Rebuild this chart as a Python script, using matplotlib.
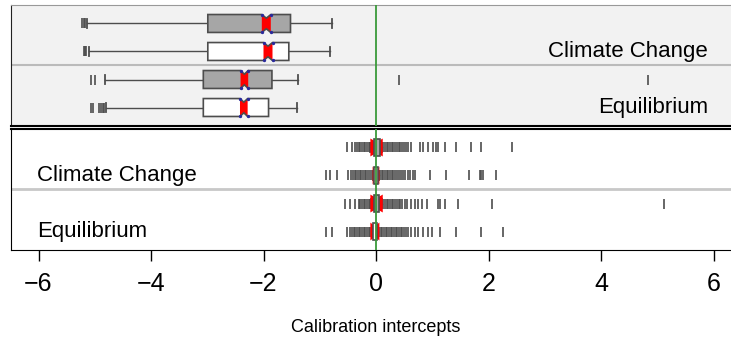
import matplotlib
matplotlib.use("Agg")
import matplotlib.pyplot as plt
from matplotlib.patches import Polygon

plt.rcParams['font.family'] = ['Liberation Sans', 'DejaVu Sans']

# ---------------- data ----------------
rows = [1, 2, 3, 4]
fills = ['#a6a6a6', 'white', '#a6a6a6', 'white']
panel_labels = ['Climate Change', 'Equilibrium']
label_rows = [2, 4]
xticks = [-6, -4, -2, 0, 2, 4, 6]
xlabel = 'Calibration intercepts'

# top panel (box statistics)
top_q1 = [-2.99, -2.99, -3.07, -3.07]
top_med = [-1.95, -1.92, -2.34, -2.35]
top_q3 = [-1.52, -1.55, -1.85, -1.91]
top_wlo = [-5.13, -5.11, -4.81, -4.80]
top_whi = [-0.79, -0.82, -1.39, -1.41]
top_notch = [0.08, 0.08, 0.068, 0.068]
top_out = [
    [-5.23, -5.20, -5.17],
    [-5.20, -5.18, -5.16],
    [-5.07, -4.99, 0.41, 4.83],
    [-5.07, -5.03, -4.92, -4.89, -4.86, -4.84],
]

# bottom panel
bot_q1 = [-0.03, -0.03, -0.03, -0.05]
bot_med = [0.01, 0.00, 0.01, -0.02]
bot_q3 = [0.07, 0.04, 0.06, 0.01]
bot_wlo = [-0.10, -0.06, -0.09, -0.07]
bot_whi = [0.11, 0.06, 0.11, 0.04]
bot_notch = [0.11, 0.06, 0.11, 0.08]
bot_out = [
    [-0.52, -0.43, -0.37, -0.34, -0.31, -0.28, -0.25, -0.22, -0.19, -0.16, -0.13, -0.11,
     0.13, 0.16, 0.19, 0.22, 0.25, 0.28, 0.31, 0.34, 0.37, 0.40, 0.43, 0.47, 0.50, 0.53,
     0.57, 0.63, 0.78, 0.84, 0.93, 1.02, 1.07, 1.11, 1.23, 1.42, 1.68, 1.86, 2.42],
    [-0.89, -0.82, -0.70, -0.49, -0.45, -0.41, -0.38, -0.35, -0.32, -0.29, -0.26, -0.23,
     -0.20, -0.17, -0.14, -0.11, -0.08, 0.07, 0.10, 0.13, 0.16, 0.19, 0.22, 0.25, 0.28,
     0.31, 0.34, 0.37, 0.40, 0.44, 0.48, 0.52, 0.56, 0.60, 0.66, 0.69, 0.96, 1.24, 1.65,
     1.84, 1.87, 1.91, 2.13],
    [-0.55, -0.46, -0.37, -0.31, -0.28, -0.25, -0.22, -0.19, -0.16, -0.13, -0.11,
     0.13, 0.16, 0.19, 0.22, 0.25, 0.28, 0.31, 0.34, 0.37, 0.40, 0.43, 0.47, 0.51, 0.55,
     0.63, 0.69, 0.75, 0.81, 0.90, 1.11, 1.14, 1.23, 1.45, 2.07, 5.12],
    [-0.89, -0.79, -0.52, -0.46, -0.43, -0.40, -0.37, -0.34, -0.31, -0.28, -0.25, -0.22,
     -0.19, -0.16, -0.13, -0.10, -0.08, 0.05, 0.08, 0.11, 0.14, 0.17, 0.20, 0.23, 0.26,
     0.29, 0.32, 0.35, 0.38, 0.41, 0.44, 0.47, 0.50, 0.53, 0.57, 0.63, 0.69, 0.75, 0.84,
     0.93, 0.99, 1.14, 1.42, 1.86, 2.25],
]

# ---------------- style ----------------
W, H = 731, 344
EDGE = '#4d4d4d'
GREEN = '#3a9a3a'
h = 0.32      # box half height
wst = 0.19    # waist half height
cap = 0.16

fig = plt.figure(figsize=(W / 100, H / 100), dpi=100)
ax_top = fig.add_axes([11 / W, 1 - 126 / H, (W - 11) / W, 121 / H])
ax_bot = fig.add_axes([11 / W, 1 - 250 / H, (W - 11) / W, 121 / H])

xlim = ((11 - 376) / 56.25, (731 - 376) / 56.25)


def draw_box(ax, y, q1, med, q3, wlo, whi, n, fill, out, notched_outline):
    # whiskers
    ax.plot([wlo, q1], [y, y], color=EDGE, lw=1.0, zorder=2)
    ax.plot([q3, whi], [y, y], color=EDGE, lw=1.0, zorder=2)
    ax.plot([wlo, wlo], [y - cap, y + cap], color=EDGE, lw=1.3, zorder=2)
    ax.plot([whi, whi], [y - cap, y + cap], color=EDGE, lw=1.3, zorder=2)
    notch = [(med - n, y - h), (med, y - wst), (med + n, y - h),
             (med + n, y + h), (med, y + wst), (med - n, y + h)]
    if notched_outline:
        pts = [(q1, y - h), (med - n, y - h), (med, y - wst), (med + n, y - h),
               (q3, y - h), (q3, y + h), (med + n, y + h), (med, y + wst),
               (med - n, y + h), (q1, y + h)]
        ax.add_patch(Polygon(pts, closed=True, facecolor=fill, edgecolor='none', zorder=3))
        ax.add_patch(Polygon(notch, closed=True, facecolor='red', edgecolor='none', zorder=4))
        ax.add_patch(Polygon(pts, closed=True, facecolor='none', edgecolor=EDGE, lw=1.2, zorder=5))
        cx = [med - n, med + n, med - n, med + n]
        cy = [y - h, y - h, y + h, y + h]
        ax.plot(cx, cy, ls='none', marker='o', ms=1.4, color='#2a2a9c', zorder=6)
    else:
        ax.add_patch(Polygon(notch, closed=True, facecolor='red', edgecolor='none', zorder=3))
        pts = [(q1, y - h), (q3, y - h), (q3, y + h), (q1, y + h)]
        ax.add_patch(Polygon(pts, closed=True, facecolor=fill, edgecolor=EDGE, lw=1.2,
                             alpha=1, zorder=4))
    ax.plot(out, [y] * len(out), ls='none', marker='|', ms=7, mew=1.2, color=EDGE, zorder=2)


# top panel
ax_top.set_facecolor('#f2f2f2')
for i, y in enumerate(rows):
    draw_box(ax_top, y, top_q1[i], top_med[i], top_q3[i], top_wlo[i], top_whi[i],
             top_notch[i], fills[i], top_out[i], True)
for lab, r in zip(panel_labels, label_rows):
    ax_top.text(5.9, r, lab, ha='right', va='center', fontsize=16, color='black')
ax_top.axhline(2.5, color='#bbbbbb', lw=1.5, zorder=1)
ax_top.axvline(0, color=GREEN, lw=1.3, zorder=7)

# bottom panel
for i, y in enumerate(rows):
    draw_box(ax_bot, y, bot_q1[i], bot_med[i], bot_q3[i], bot_wlo[i], bot_whi[i],
             bot_notch[i], fills[i], bot_out[i], False)
for lab, r in zip(panel_labels, label_rows):
    ax_bot.text(-6.03, r, lab, ha='left', va='center', fontsize=16, color='black')
ax_bot.axhline(2.5, color='#c8c8c8', lw=2, zorder=1)
ax_bot.axvline(0, color=GREEN, lw=1.3, zorder=7)

for ax in (ax_top, ax_bot):
    ax.set_xlim(*xlim)
    ax.set_ylim(4.66, 0.34)
    ax.set_yticks([])
    ax.spines['right'].set_visible(False)

ax_top.set_xticks([])
ax_top.spines['top'].set_color('#999999')
ax_top.spines['left'].set_color('#222222')
ax_top.spines['bottom'].set_color('black')
ax_top.spines['bottom'].set_linewidth(1.5)

for s in ('top', 'left', 'bottom'):
    ax_bot.spines[s].set_color('black')
ax_bot.spines['top'].set_linewidth(1.5)
ax_bot.set_xticks(xticks)
ax_bot.set_xticklabels([str(t).replace('-', '\u2212') for t in xticks])
ax_bot.tick_params(axis='x', length=8, width=1, pad=8, labelsize=18)

fig.text(376 / W, 1 - 328 / H, xlabel, ha='center', va='center', fontsize=13)

fig.savefig('out.png', dpi=100)
